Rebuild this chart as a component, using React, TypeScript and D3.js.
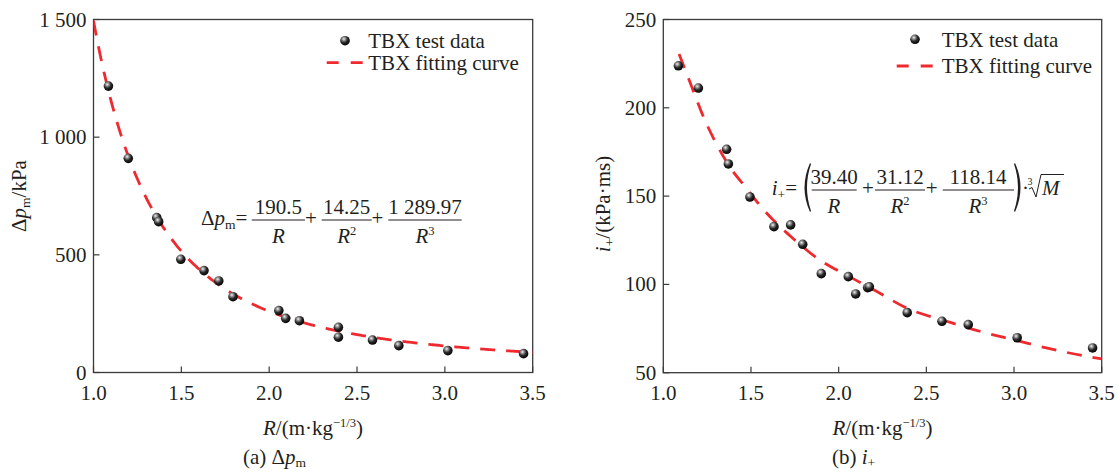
import React from "react";
import * as d3 from "d3";

// ---------- data ----------
const xTicks = [1.0, 1.5, 2.0, 2.5, 3.0, 3.5];
const xTickLabels = ["1.0", "1.5", "2.0", "2.5", "3.0", "3.5"];

const leftYTicks = [0, 500, 1000, 1500];
const leftYTickLabels = ["0", "500", "1 000", "1 500"];
const rightYTicks = [50, 100, 150, 200, 250];
const rightYTickLabels = ["50", "100", "150", "200", "250"];

// (a) peak overpressure test data
const leftR = [1.085, 1.198, 1.36, 1.371, 1.497, 1.629, 1.713, 1.794, 2.055, 2.094, 2.172, 2.394, 2.394, 2.588, 2.738, 3.017, 3.448];
const leftP = [1217, 910, 658, 641, 481, 433, 389, 322, 263, 230, 220, 192, 150, 138, 114, 93, 80];
// fitting curve coefficients printed in the chart: a/R + b/R^2 + c/R^3
const leftCoef = [190.5, 14.25, 1289.97];

// (b) impulse test data
const rightR = [1.086, 1.2, 1.361, 1.371, 1.494, 1.631, 1.726, 1.795, 1.901, 2.055, 2.097, 2.165, 2.175, 2.391, 2.589, 2.739, 3.018, 3.448];
const rightI = [223.8, 211.2, 176.5, 168.2, 149.5, 132.7, 133.7, 122.7, 106.1, 104.4, 94.6, 98.2, 98.6, 84.0, 79.1, 77.2, 69.8, 64.0];
// fitting curve
const rightCurveR = [1.09, 1.16, 1.22, 1.29, 1.39, 1.47, 1.57, 1.74, 1.89, 2.05, 2.2, 2.39, 2.62, 2.81, 3.0, 3.19, 3.44, 3.5];
const rightCurveI = [230.5, 212.5, 197, 182, 165, 155, 142.5, 126, 114, 105, 97, 86.5, 79, 73.3, 68.6, 63.9, 58.8, 57.8];

// ---------- styles ----------
const FONT = "Liberation Serif, Times New Roman, serif";
const TXT = "#231f20";
const AX = "#3a3a3a";
const RED = "#ee2a2f";
const FS = 21;

function Panel(props: {
  x0: number; x1: number; y0: number; y1: number;
  yDomain: [number, number]; yTicks: number[]; yLabels: string[];
  ptsX: number[]; ptsY: number[]; curve: [number, number][];
  id: string;
}) {
  const { x0, x1, y0, y1, yDomain, yTicks, yLabels, ptsX, ptsY, curve, id } = props;
  const x = d3.scaleLinear().domain([1, 3.5]).range([x0, x1]);
  const y = d3.scaleLinear().domain(yDomain).range([y1, y0]);
  const line = d3.line<[number, number]>().x(d => x(d[0])).y(d => y(d[1])).curve(d3.curveMonotoneX);
  return (
    <g>
      <defs>
        <clipPath id={"clip" + id}>
          <rect x={x0} y={y0} width={x1 - x0} height={y1 - y0} />
        </clipPath>
      </defs>
      <rect x={x0} y={y0} width={x1 - x0} height={y1 - y0} fill="none" stroke={AX} strokeWidth={1.3} />
      {xTicks.map((t, i) => (
        <g key={"xt" + i}>
          <line x1={x(t)} x2={x(t)} y1={y1} y2={y1 - 6} stroke={AX} strokeWidth={1.2} />
          <text x={x(t)} y={400} textAnchor="middle" fontSize={FS} fill={TXT}>{xTickLabels[i]}</text>
        </g>
      ))}
      {yTicks.map((t, i) => (
        <g key={"yt" + i}>
          <line x1={x0} x2={x0 + 6} y1={y(t)} y2={y(t)} stroke={AX} strokeWidth={1.2} />
          <text x={x0 - 7} y={y(t) + 7} textAnchor="end" fontSize={FS} fill={TXT}>{yLabels[i]}</text>
        </g>
      ))}
      <path d={line(curve) || ""} fill="none" stroke={RED} strokeWidth={2.8} strokeDasharray="15 11" clipPath={`url(#clip${id})`} />
      {ptsX.map((r, i) => (
        <circle key={"p" + i} cx={x(r)} cy={y(ptsY[i])} r={4.8} fill="url(#sphere)" />
      ))}
    </g>
  );
}

function Frac(props: { cx: number; x0: number; x1: number; bar: number; num: React.ReactNode; den: React.ReactNode }) {
  const { cx, x0, x1, bar, num, den } = props;
  return (
    <g>
      <text x={cx} y={bar - 6} textAnchor="middle" fontSize={FS} fill={TXT}>{num}</text>
      <line x1={x0} x2={x1} y1={bar} y2={bar} stroke={TXT} strokeWidth={1} />
      <text x={cx} y={bar + 22.5} textAnchor="middle" fontSize={FS} fill={TXT}>{den}</text>
    </g>
  );
}

const Rp = (p?: string) => (
  <>
    <tspan fontStyle="italic">R</tspan>
    {p ? <tspan fontSize={12.5} dy={-8}>{p}</tspan> : null}
  </>
);

export default function App() {
  const leftCurve: [number, number][] = d3.range(1.0, 3.5001, 0.01).map(r => [
    r,
    leftCoef[0] / r + leftCoef[1] / (r * r) + leftCoef[2] / (r * r * r),
  ]);
  const rightCurve: [number, number][] = rightCurveR.map((r, i) => [r, rightCurveI[i]]);

  return (
    <div style={{ position: "fixed", left: 0, top: 0 }}>
      <svg width={1117} height={472} style={{ display: "block", background: "#fff", fontFamily: FONT }}>
        <defs>
          <radialGradient id="sphere" cx="0.38" cy="0.32" r="0.7">
            <stop offset="0" stopColor="#f4f4f4" />
            <stop offset="0.22" stopColor="#9a9a9a" />
            <stop offset="0.55" stopColor="#2a2a2a" />
            <stop offset="1" stopColor="#000" />
          </radialGradient>
        </defs>

        {/* ---------- panel (a) ---------- */}
        <Panel id="a" x0={93.5} x1={532.7} y0={19.5} y1={372.5} yDomain={[0, 1500]}
          yTicks={leftYTicks} yLabels={leftYTickLabels} ptsX={leftR} ptsY={leftP} curve={leftCurve} />
        <text transform="translate(26,196) rotate(-90)" textAnchor="middle" fontSize={FS} fill={TXT}>
          Δ<tspan fontStyle="italic">p</tspan><tspan fontSize={13.5} dy={4}>m</tspan><tspan dy={-4}>/kPa</tspan>
        </text>
        <text x={313} y={435} textAnchor="middle" fontSize={FS} fill={TXT}>
          <tspan fontStyle="italic">R</tspan>/(m·kg<tspan fontSize={12.5} dy={-8}>−1/3</tspan><tspan dy={8}>)</tspan>
        </text>
        <text x={243} y={464} fontSize={FS} fill={TXT}>
          (a) Δ<tspan fontStyle="italic">p</tspan><tspan fontSize={13.5} dy={3}>m</tspan>
        </text>
        {/* legend */}
        <circle cx={345} cy={40.7} r={4.8} fill="url(#sphere)" />
        <text x={368.3} y={47.5} fontSize={FS} fill={TXT}>TBX test data</text>
        <line x1={326.7} x2={362.7} y1={62.7} y2={62.7} stroke={RED} strokeWidth={2.8} strokeDasharray="12 12" />
        <text x={368.3} y={70} fontSize={FS} fill={TXT}>TBX fitting curve</text>
        {/* formula */}
        <text x={201} y={225} fontSize={FS} fill={TXT}>
          Δ<tspan fontStyle="italic">p</tspan><tspan fontSize={13.5} dy={4}>m</tspan><tspan dy={-4}>=</tspan>
        </text>
        <Frac cx={278.3} x0={251.7} x1={305} bar={220} num="190.5" den={Rp()} />
        <text x={311} y={225} textAnchor="middle" fontSize={FS} fill={TXT}>+</text>
        <Frac cx={346.7} x0={321.7} x1={371.7} bar={220} num="14.25" den={Rp("2")} />
        <text x={377.5} y={225} textAnchor="middle" fontSize={FS} fill={TXT}>+</text>
        <Frac cx={425} x0={388.3} x1={461.7} bar={220} num="1 289.97" den={Rp("3")} />

        {/* ---------- panel (b) ---------- */}
        <Panel id="b" x0={663.3} x1={1101.7} y0={19.5} y1={372.7} yDomain={[50, 250]}
          yTicks={rightYTicks} yLabels={rightYTickLabels} ptsX={rightR} ptsY={rightI} curve={rightCurve} />
        <text transform="translate(610,204) rotate(-90)" textAnchor="middle" fontSize={FS} fill={TXT}>
          <tspan fontStyle="italic">i</tspan><tspan fontSize={13.5} dy={4}>+</tspan><tspan dy={-4}>/(kPa·ms)</tspan>
        </text>
        <text x={882.5} y={435} textAnchor="middle" fontSize={FS} fill={TXT}>
          <tspan fontStyle="italic">R</tspan>/(m·kg<tspan fontSize={12.5} dy={-8}>−1/3</tspan><tspan dy={8}>)</tspan>
        </text>
        <text x={832} y={464} fontSize={FS} fill={TXT}>
          (b) <tspan fontStyle="italic">i</tspan><tspan fontSize={13.5} dy={3}>+</tspan>
        </text>
        {/* legend */}
        <circle cx={915} cy={39.3} r={4.8} fill="url(#sphere)" />
        <text x={941.7} y={46.5} fontSize={FS} fill={TXT}>TBX test data</text>
        <line x1={896.7} x2={932.7} y1={66} y2={66} stroke={RED} strokeWidth={2.8} strokeDasharray="12 12" />
        <text x={941.7} y={73} fontSize={FS} fill={TXT}>TBX fitting curve</text>
        {/* formula */}
        <text x={771.7} y={195} fontSize={FS} fill={TXT}>
          <tspan fontStyle="italic">i</tspan><tspan fontSize={13.5} dy={4}>+</tspan><tspan dy={-4}>=</tspan>
        </text>
        <path d="M810,163 Q799,187.5 810,212 L811,211 Q803,187.5 811,164 Z" fill={TXT} />
        <Frac cx={834} x0={811.7} x1={856.7} bar={190} num="39.40" den={Rp()} />
        <text x={868} y={195} textAnchor="middle" fontSize={FS} fill={TXT}>+</text>
        <Frac cx={900} x0={875} x1={925} bar={190} num="31.12" den={Rp("2")} />
        <text x={931.7} y={195} textAnchor="middle" fontSize={FS} fill={TXT}>+</text>
        <Frac cx={978} x0={942.7} x1={1014} bar={190} num="118.14" den={Rp("3")} />
        <path d="M1015,163 Q1026,187.5 1015,212 L1014,211 Q1022,187.5 1014,164 Z" fill={TXT} />
        <text x={1025.5} y={195} textAnchor="middle" fontSize={FS} fill={TXT}>·</text>
        <text x={1030} y={185} textAnchor="middle" fontSize={10} fill={TXT}>3</text>
        <path d="M1029,189 L1032,187.5 L1036,197 L1041,174.5 L1064,174.5" fill="none" stroke={TXT} strokeWidth={1} />
        <text x={1042} y={195} fontSize={FS} fontStyle="italic" fill={TXT}>M</text>
      </svg>
    </div>
  );
}
